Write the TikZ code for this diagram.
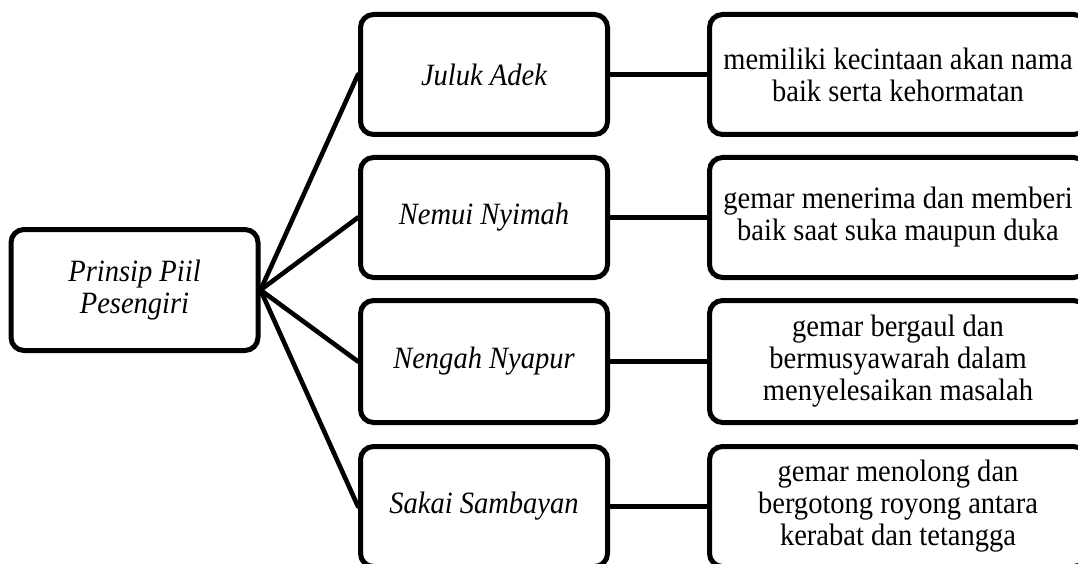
\documentclass[tikz,border=0pt]{standalone}
\usepackage{fontspec}
\setmainfont{Liberation Serif}[FakeStretch=0.92]
\begin{document}
\begin{tikzpicture}[x=1pt,y=-1pt,
  box/.style={draw=black, line width=5pt, rounded corners=13pt, fill=white,
    minimum height=120pt, inner sep=0pt, align=center,
    font=\fontsize{31}{32}\selectfont},
  midbox/.style={box, minimum width=247pt, font=\fontsize{31}{32}\selectfont\itshape},
  descbox/.style={box, minimum width=377pt},
  conn/.style={draw=black, line width=4.6pt, line cap=round}]
\useasboundingbox (0,0) rectangle (1078,564);
\clip (0,0) rectangle (1078,564);
\node[midbox, minimum height=121pt] (root) at (134.5,290) {Prinsip Piil\\Pesengiri};
\node[midbox] (m1) at (484,74.5) {Juluk Adek};
\node[midbox] (m2) at (484,217.5) {Nemui Nyimah};
\node[midbox, minimum height=122pt] (m3) at (484,361.5) {Nengah Nyapur};
\node[midbox] (m4) at (484,506.5) {Sakai Sambayan};
\node[descbox] (d1) at (898,74.5) {memiliki kecintaan akan nama\\baik serta kehormatan};
\node[descbox] (d2) at (898,217.5) {gemar menerima dan memberi\\baik saat suka maupun duka};
\node[descbox, minimum height=122pt] (d3) at (898,361.5) {gemar bergaul dan\\bermusyawarah dalam\\menyelesaikan masalah};
\node[descbox] (d4) at (898,506.5) {gemar menolong dan\\bergotong royong antara\\kerabat dan tetangga};
\foreach \i in {1,2,3,4}{
  \draw[conn] (root.east) -- (m\i.west);
  \draw[conn] (m\i.east) -- (d\i.west);
}
\end{tikzpicture}
\end{document}
